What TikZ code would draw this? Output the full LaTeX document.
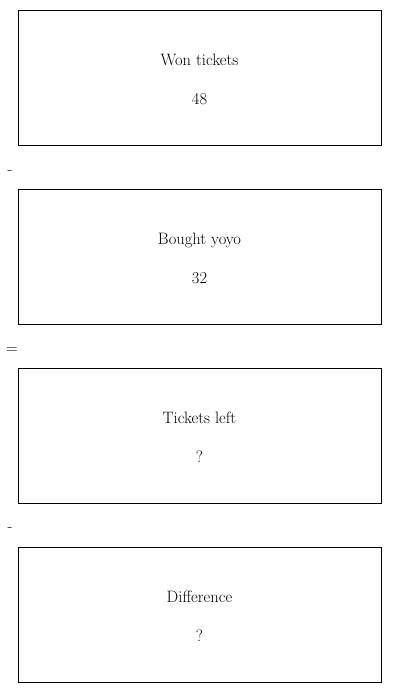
\documentclass[tikz,border=0pt]{standalone}
\usepackage{tikz}
\usetikzlibrary{positioning}

\begin{document}
\begin{tikzpicture}[x=1pt,y=1pt,node distance=179pt,on grid,
  bar/.style={draw,line width=0.8pt,minimum width=363pt,minimum height=135pt},
  txt/.style={align=center,font=\fontsize{16.5}{19}\selectfont},
  op/.style={font=\fontsize{16}{19}\selectfont}]
\useasboundingbox (0,0) rectangle (400,-693);
\node[bar] (won) at (199.5,-77.5) {};
\node[bar] (yoyo) [below=of won] {};
\node[bar] (left) [below=of yoyo] {};
\node[bar] (diff) [below=of left] {};
\node[txt] (won-t) [below=2pt of won] {Won tickets\\[20pt]48};
\node[txt] (yoyo-t) [below=2pt of yoyo] {Bought yoyo\\[20pt]32};
\node[txt] (left-t) [below=2pt of left] {Tickets left\\[20pt]?};
\node[txt] (diff-t) [below=2pt of diff] {Difference\\[20pt]?};
\node[op] (minus1) at (10,-173) {-};
\node[op] (equals) at (12,-351) {=};
\node[op] (minus2) at (10,-530) {-};
\end{tikzpicture}
\end{document}
